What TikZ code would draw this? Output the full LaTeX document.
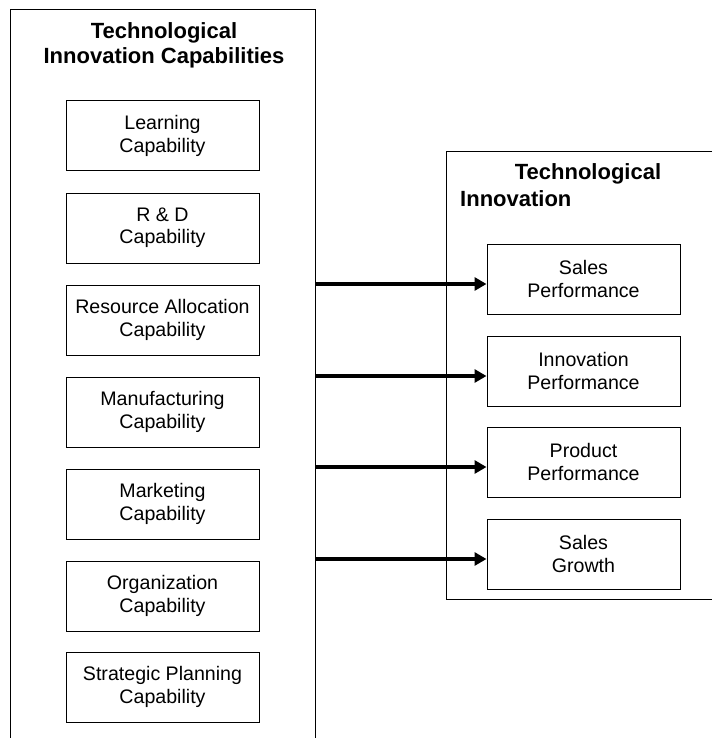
\documentclass[tikz,border=0pt]{standalone}
\usepackage{fontspec}
\setmainfont{Liberation Sans}
\usetikzlibrary{arrows.meta}

\tikzset{
	capbox/.style={draw, line width=1pt, minimum width=193pt, minimum height=70pt,
		align=center, font=\fontsize{19.6}{22.5}\selectfont, inner sep=0pt},
	heading/.style={font=\fontsize{22}{25}\selectfont\bfseries, inner sep=0pt},
	flow/.style={line width=4.8pt, -{Triangle[length=12pt,width=13pt]}}
}

\begin{document}
\begin{tikzpicture}[x=1pt, y=-1pt]
			\useasboundingbox (0, 0) rectangle (712, 738);

			% left frame, open at the bottom
			\draw[line width=1pt]	(10, 738) -- (10, 10) -- (315, 10) -- (315, 738);
			\node[heading, align=center] (leftTitle) at (164, 45) {Technological\\Innovation Capabilities};

			\node[capbox] (learning)		at (162.5, 136) {Learning\\Capability};
			\node[capbox] (rnd)			at (162.5, 228) {R \& D\\Capability};
			\node[capbox] (resource)		at (162.5, 320) {Resource Allocation\\Capability};
			\node[capbox] (manufacturing)	at (162.5, 412) {Manufacturing\\Capability};
			\node[capbox] (marketing)		at (162.5, 504) {Marketing\\Capability};
			\node[capbox] (organization)	at (162.5, 596) {Organization\\Capability};
			\node[capbox] (planning)		at (162.5, 687) {Strategic Planning\\Capability};

			% right frame, runs off the right edge
			\draw[line width=1pt]	(712, 152) -- (446, 152) -- (446, 599) -- (712, 599);
			\node[heading] (rightTitleA) at (588, 174) {Technological};
			\node[heading, anchor=west] (rightTitleB) at (460, 199) {Innovation};

			\node[capbox] (salesPerf)	at (583.5, 279) {Sales\\Performance};
			\node[capbox] (innovPerf)	at (583.5, 371) {Innovation\\Performance};
			\node[capbox] (prodPerf)	at (583.5, 462) {Product\\Performance};
			\node[capbox] (salesGrowth)	at (583.5, 554) {Sales\\Growth};

			\coordinate (out1) at (315, 284);
			\coordinate (out2) at (315, 376);
			\coordinate (out3) at (315, 467);
			\coordinate (out4) at (315, 559);

			\draw[flow]	(out1) -- (out1 -| salesPerf.west);
			\draw[flow]	(out2) -- (out2 -| innovPerf.west);
			\draw[flow]	(out3) -- (out3 -| prodPerf.west);
			\draw[flow]	(out4) -- (out4 -| salesGrowth.west);
		\end{tikzpicture}
\end{document}
